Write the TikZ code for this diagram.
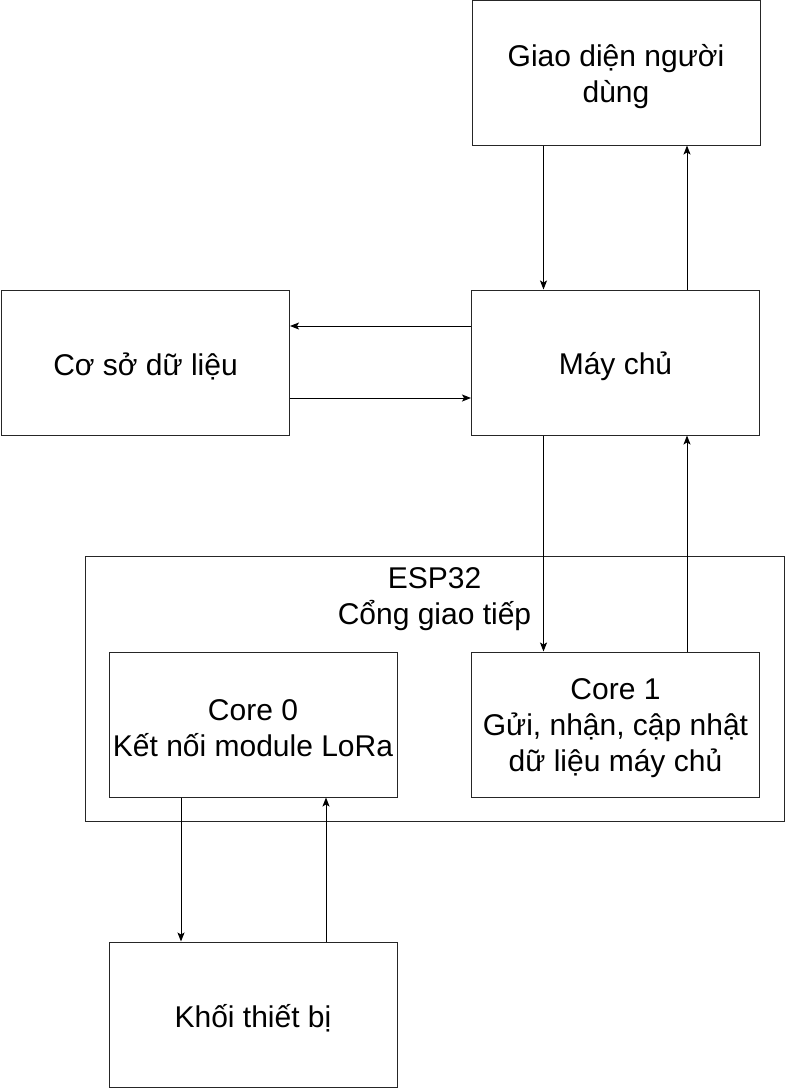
\documentclass[tikz,border=0pt]{standalone}
\usepackage{fontspec}
\setmainfont{Liberation Sans}
\usetikzlibrary{arrows.meta}
\begin{document}
\begin{tikzpicture}[x=1pt,y=-1pt,
  lbl/.style={align=center,inner sep=0pt,font=\fontsize{30}{36}\selectfont},
  box/.style={draw=black!85,line width=1pt,minimum width=288pt,minimum height=145pt,inner sep=0pt,
    label={[lbl,yshift=-4pt]center:#1}},
  outer/.style={draw=black!85,line width=1pt,minimum width=699pt,minimum height=265pt,inner sep=0pt},
  arr/.style={line width=1pt,-{Stealth[length=9pt,width=7pt,inset=2pt]}}]
\useasboundingbox (0,0) rectangle (786,1088);
\node[box={Giao diện người\\dùng}] (gd) at (616,72.5) {};
\node[box={Máy chủ}] (mc) at (615.5,362.5) {};
\node[box={Cơ sở dữ liệu}] (db) at (145.5,362.5) {};
\node[outer] (esp) at (434.5,688.5) {};
\node[lbl,anchor=north] (esplbl) at (434.5,567) {ESP32\\Cổng giao tiếp};
\node[box={Core 0\\Kết nối module LoRa}] (c0) at (253,724.5) {};
\node[box={Core 1\\Gửi, nhận, cập nhật\\dữ liệu máy chủ}] (c1) at (615.5,724.5) {};
\node[box={Khối thiết bị}] (kt) at (253,1014.5) {};
\draw[arr] ([xshift=-72.5pt]gd.south) -- ([xshift=-72pt]mc.north);
\draw[arr] ([xshift=71.5pt]mc.north) -- ([xshift=71pt]gd.south);
\draw[arr] ([yshift=36.5pt]mc.west) -- ([yshift=36.5pt]db.east);
\draw[arr] ([yshift=-35.5pt]db.east) -- ([yshift=-35.5pt]mc.west);
\draw[arr] ([xshift=-72pt]mc.south) -- ([xshift=-72pt]c1.north);
\draw[arr] ([xshift=71.5pt]c1.north) -- ([xshift=71.5pt]mc.south);
\draw[arr] ([xshift=-72pt]c0.south) -- ([xshift=-72pt]kt.north);
\draw[arr] ([xshift=73pt]kt.north) -- ([xshift=73pt]c0.south);
\end{tikzpicture}
\end{document}
